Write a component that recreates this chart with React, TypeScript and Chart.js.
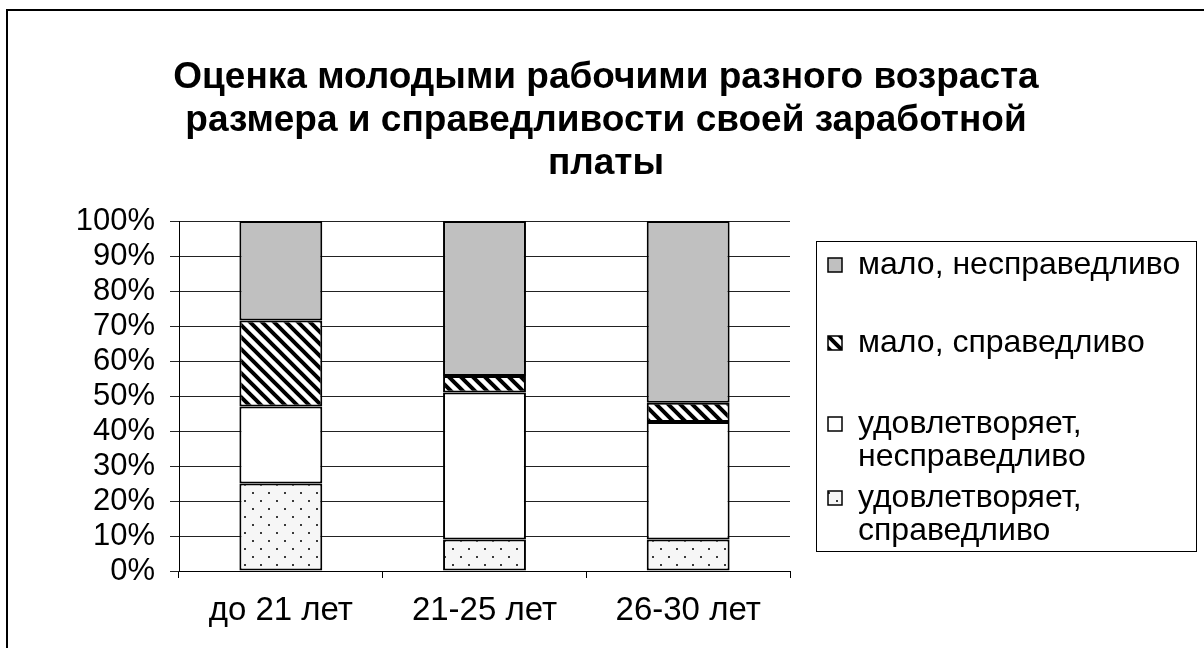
import React, { useEffect, useRef } from "react";
import { Chart, registerables } from "chart.js";

Chart.register(...registerables);

const categories = ["до 21 лет", "21-25 лет", "26-30 лет"];
const satisfiedFair = [25, 9, 9];
const satisfiedUnfair = [22, 42, 33.6];
const lowFair = [24.6, 4.7, 5.5];
const lowUnfair = [28.4, 44.3, 51.9];
const yTickStep = 10;
const yMax = 100;
const titleLines = [
  "Оценка молодыми рабочими разного возраста",
  "размера и справедливости своей заработной",
  "платы",
];
const seriesNames = [
  "удовлетворяет, справедливо",
  "удовлетворяет, несправедливо",
  "мало, справедливо",
  "мало, несправедливо",
];
const legendLines = [
  ["мало, несправедливо"],
  ["мало, справедливо"],
  ["удовлетворяет,", "несправедливо"],
  ["удовлетворяет,", "справедливо"],
];

const FONT = "'Liberation Sans', Arial, sans-serif";

function stripePattern(): CanvasPattern | string {
  const c = document.createElement("canvas");
  const s = 12;
  c.width = s;
  c.height = s;
  const g = c.getContext("2d");
  if (!g) return "#000";
  g.fillStyle = "#fff";
  g.fillRect(0, 0, s, s);
  g.strokeStyle = "#000";
  g.lineWidth = 4;
  g.beginPath();
  g.moveTo(-2, -2);
  g.lineTo(s + 2, s + 2);
  g.moveTo(-s - 2, -2);
  g.lineTo(2, s + 2);
  g.moveTo(s - 2, -2);
  g.lineTo(2 * s + 2, s + 2);
  g.stroke();
  return g.createPattern(c, "repeat") || "#000";
}

function dotPattern(): CanvasPattern | string {
  const c = document.createElement("canvas");
  const s = 16;
  c.width = s;
  c.height = s;
  const g = c.getContext("2d");
  if (!g) return "#eee";
  g.fillStyle = "#f6f6f6";
  g.fillRect(0, 0, s, s);
  g.fillStyle = "#3a3a3a";
  g.fillRect(4, 4, 2, 2);
  g.fillRect(12, 12, 2, 2);
  return g.createPattern(c, "repeat") || "#eee";
}

export default function App() {
  const ref = useRef<HTMLCanvasElement>(null);

  useEffect(() => {
    document.body.style.margin = "0";
    const canvas = ref.current;
    if (!canvas) return;

    const stripes = stripePattern();
    const dots = dotPattern();
    const fills: any[] = [dots, "#ffffff", stripes, "#c0c0c0"];
    const values = [satisfiedFair, satisfiedUnfair, lowFair, lowUnfair];

    const decor = {
      id: "decor",
      afterDraw(chart: any) {
        const ctx = chart.ctx as CanvasRenderingContext2D;
        ctx.save();
        // outer frame
        ctx.strokeStyle = "#000";
        ctx.lineWidth = 2;
        ctx.beginPath();
        ctx.moveTo(7, 648);
        ctx.lineTo(7, 10);
        ctx.lineTo(1204, 10);
        ctx.stroke();

        // title
        ctx.fillStyle = "#000";
        ctx.font = `bold 37px ${FONT}`;
        ctx.textAlign = "center";
        ctx.textBaseline = "middle";
        const ty = [78, 121, 164];
        titleLines.forEach((t, i) => ctx.fillText(t, 606, ty[i]));

        // legend box
        ctx.lineWidth = 1;
        ctx.strokeStyle = "#000";
        ctx.strokeRect(816.5, 241.5, 380, 310);
        const itemY = [265, 343, 424, 498];
        const order = [3, 2, 1, 0];
        ctx.font = `32px ${FONT}`;
        ctx.textAlign = "left";
        order.forEach((ds, i) => {
          const y = itemY[i];
          ctx.fillStyle = fills[ds];
          ctx.fillRect(828, y - 7, 14, 14);
          ctx.strokeStyle = "#000";
          ctx.lineWidth = 1.5;
          ctx.strokeRect(828, y - 7, 14, 14);
          ctx.fillStyle = "#000";
          legendLines[i].forEach((line, j) => {
            ctx.fillText(line, 858, y + j * 33);
          });
        });
        ctx.restore();
      },
    };

    const chart = new Chart(canvas, {
      type: "bar",
      data: {
        labels: categories,
        datasets: values.map((v, i) => ({
          label: seriesNames[i],
          data: v,
          backgroundColor: fills[i],
          borderColor: "#000",
          borderWidth: 2,
          borderSkipped: false,
          barPercentage: 0.407,
          categoryPercentage: 1,
        })),
      },
      options: {
        responsive: false,
        animation: false,
        devicePixelRatio: 1,
        layout: { padding: { left: 0, top: 221, right: 414, bottom: 0 } },
        plugins: {
          legend: { display: false },
          title: { display: false },
          tooltip: { enabled: false },
        },
        scales: {
          x: {
            stacked: true,
            afterFit: (s: any) => {
              s.height = 77;
            },
            grid: {
              display: true,
              drawOnChartArea: false,
              drawTicks: true,
              tickLength: 7,
              color: "#000",
              offset: true,
            },
            border: { display: true, color: "#000", width: 1 },
            ticks: {
              color: "#000",
              font: { family: FONT, size: 33 },
              padding: 13,
              maxRotation: 0,
              autoSkip: false,
            },
          },
          y: {
            stacked: true,
            min: 0,
            max: yMax,
            afterFit: (s: any) => {
              s.width = 179;
            },
            grid: {
              color: "#222",
              tickLength: 9,
              drawTicks: true,
            },
            border: { display: true, color: "#000", width: 1 },
            ticks: {
              stepSize: yTickStep,
              color: "#000",
              font: { family: FONT, size: 31 },
              padding: 15,
              autoSkip: false,
              callback: (v: any) => `${v}%`,
            },
          },
        },
      },
      plugins: [decor],
    });

    return () => chart.destroy();
  }, []);

  return <canvas ref={ref} width={1204} height={648} style={{ display: "block" }} />;
}
